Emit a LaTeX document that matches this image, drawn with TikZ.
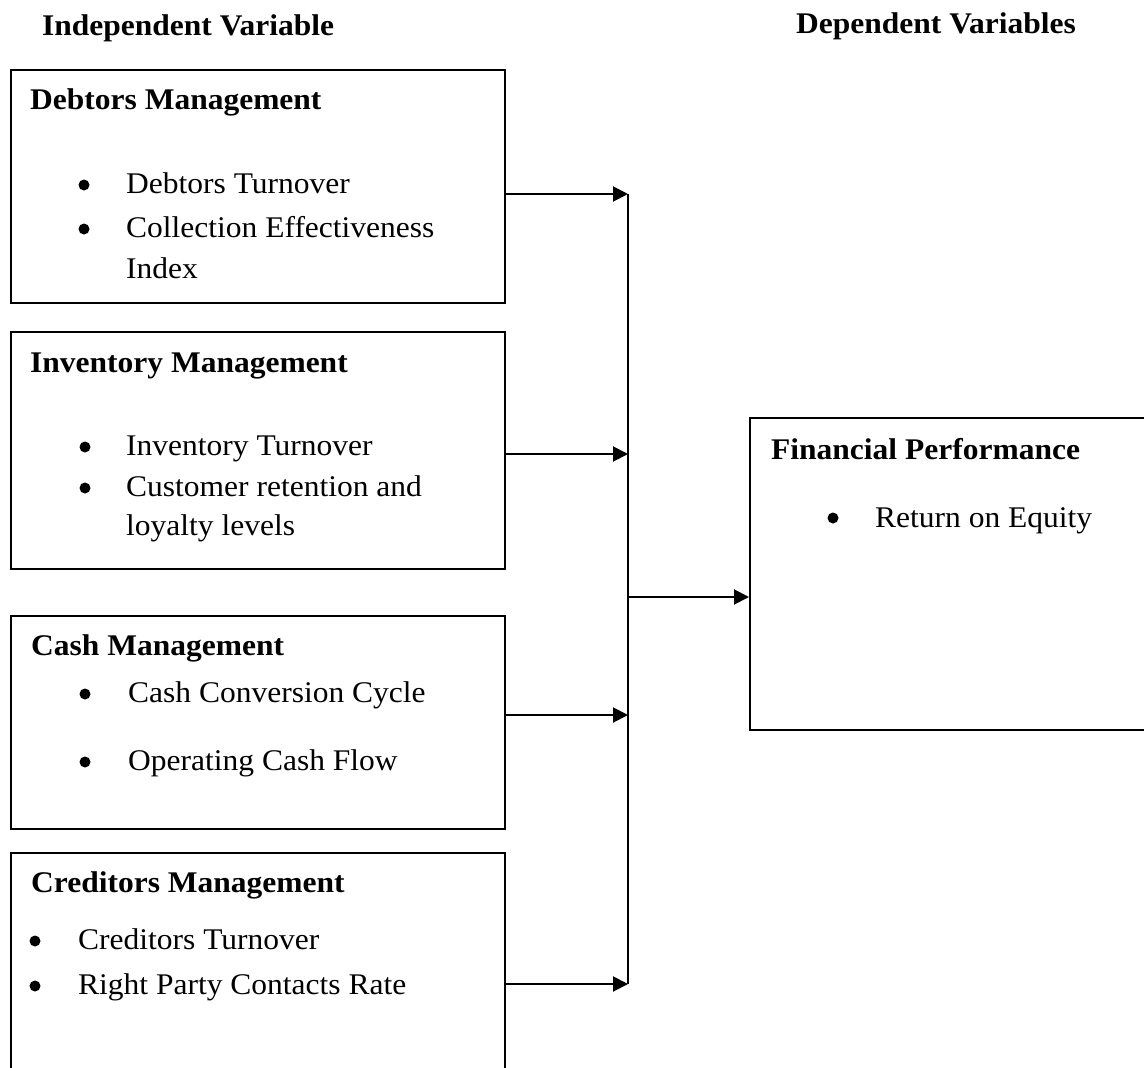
\documentclass[tikz,border=0pt]{standalone}
\usepackage{fontspec}
\setmainfont{Liberation Serif}[FakeStretch=1.05]
\usetikzlibrary{arrows.meta}
\tikzset{
  box/.style={draw, line width=2pt, inner sep=0pt, anchor=north west},
  txt/.style={anchor=base west, inner sep=0pt, font=\fontsize{30}{36}\selectfont},
  hd/.style={anchor=base west, inner sep=0pt, font=\fontsize{30}{36}\selectfont\bfseries},
  conn/.style={line width=2pt},
  arr/.style={line width=2pt, -{Triangle[length=15pt,width=15pt]}},
  dot/.style={circle, fill, inner sep=0pt, minimum size=11pt}
}
\begin{document}
\begin{tikzpicture}[x=1pt,y=-1pt]
\useasboundingbox (0,0) rectangle (1144,1068);
\clip (0,0) rectangle (1144,1068);
\fill[white] (0,0) rectangle (1144,1068);

% titles
\node[hd] (tind) at (42,35) {Independent Variable};
\node[hd] (tdep) at (796,34) {Dependent Variables};

% boxes
\node[box, minimum width=494pt, minimum height=233pt] (b1) at (10,69) {};
\node[box, minimum width=494pt, minimum height=237pt] (b2) at (10,331) {};
\node[box, minimum width=494pt, minimum height=213pt] (b3) at (10,615) {};
\node[box, minimum width=494pt, minimum height=240pt] (b4) at (10,852) {};
\node[box, minimum width=420pt, minimum height=312pt] (fp) at (749,417) {};

% box 1
\node[hd] (h1) at (30,109) {Debtors Management};
\node[dot] (d11) at (84,185) {};
\node[txt] (t11) at (126,193) {Debtors Turnover};
\node[dot] (d12) at (84,229) {};
\node[txt] (t12) at (126,237) {Collection Effectiveness};
\node[txt] (t13) at (126,278) {Index};

% box 2
\node[hd] (h2) at (30,372) {Inventory Management};
\node[dot] (d21) at (85,447) {};
\node[txt] (t21) at (126,455) {Inventory Turnover};
\node[dot] (d22) at (85,488) {};
\node[txt] (t22) at (126,496) {Customer retention and};
\node[txt] (t23) at (126,535) {loyalty levels};

% box 3
\node[hd] (h3) at (31,655) {Cash Management};
\node[dot] (d31) at (85,694) {};
\node[txt] (t31) at (128,702) {Cash Conversion Cycle};
\node[dot] (d32) at (85,762) {};
\node[txt] (t32) at (128,770) {Operating Cash Flow};

% box 4
\node[hd] (h4) at (31,892) {Creditors Management};
\node[dot] (d41) at (35,941) {};
\node[txt] (t41) at (78,949) {Creditors Turnover};
\node[dot] (d42) at (35,986) {};
\node[txt] (t42) at (78,994) {Right Party Contacts Rate};

% financial performance
\node[hd] (h5) at (771,459) {Financial Performance};
\node[dot] (d51) at (833,518) {};
\node[txt] (t51) at (875,527) {Return on Equity};

% connectors
\coordinate (j1) at (628,194);
\coordinate (j2) at (628,454);
\coordinate (j3) at (628,715);
\coordinate (j4) at (628,984);
\coordinate (jm) at (628,597);
\draw[conn] (j1) -- (j4);
\draw[arr] (b1.east |- j1) -- (j1);
\draw[arr] (b2.east |- j2) -- (j2);
\draw[arr] (b3.east |- j3) -- (j3);
\draw[arr] (b4.east |- j4) -- (j4);
\draw[arr] (jm) -- (fp.west |- jm);
\end{tikzpicture}
\end{document}
